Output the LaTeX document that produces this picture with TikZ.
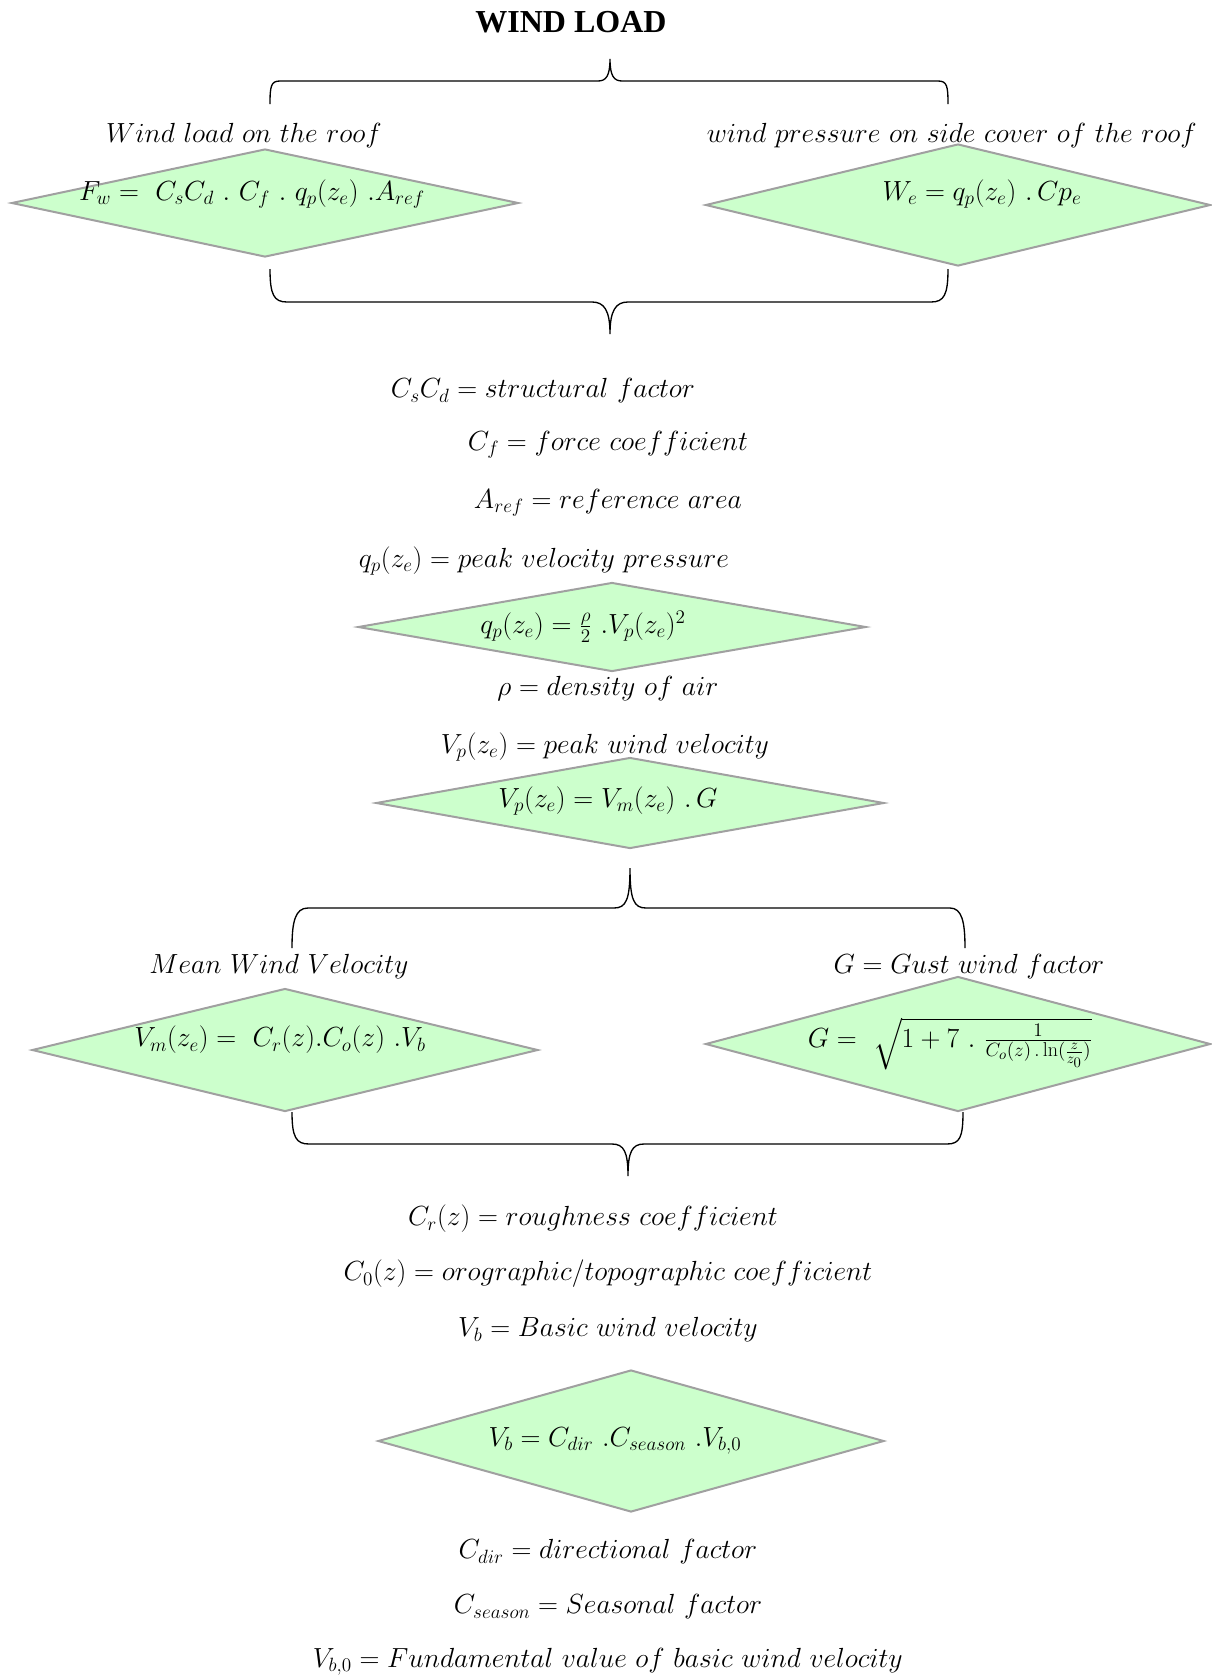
\documentclass[tikz,border=0pt]{standalone}
\usepackage{amsmath}
\usepackage{amssymb}
\usepackage{fontspec}
\usepackage{tikz}
\usetikzlibrary{shapes}
\newfontfamily\titlefont{Liberation Serif}
\definecolor{diafill}{RGB}{204,255,204}
\definecolor{diaedge}{RGB}{160,160,160}

\begin{document}
\begin{tikzpicture}[x=0.75pt,y=0.75pt,yscale=-1,xscale=1,
  dia/.style={diamond,draw=diaedge,fill=diafill,line width=1.5pt,inner sep=0pt},
  eqn/.style={inner sep=0.75pt,font=\fontsize{21.5}{26}\selectfont},
  brace/.style={line width=1pt}]
\useasboundingbox (0,0) rectangle (1211,1675);

%title
\node [inner sep=0.75pt,font=\titlefont\bfseries\fontsize{24}{28}\selectfont] (title) at (571,22) {WIND LOAD};

%top brace
\draw [brace] (270,104) .. controls (270,86) and (271,81) .. (280,81) -- (598,81) .. controls (606,81) and (610,76) .. (610,59) .. controls (610,76) and (614,81) .. (622,81) -- (938,81) .. controls (947,81) and (948,86) .. (948,104) ;

%roof and side cover
\node [eqn] (roofl) at (244,136) {$Wind\ load\ on\ the\ roof$};
\node [eqn] (sidel) at (952,136) {$wind\ pressure\ on\ side\ cover\ of\ the\ roof$};
\node [dia,minimum width=380.25pt,minimum height=81pt] (droof) at (265,203) {};
\node [dia,minimum width=378.75pt,minimum height=91.5pt] (dside) at (958,205) {};
\node [eqn] (froof) at (252,194) {$F_w =\ C_sC_d\ .\ C_f\ .\ q_p(z_e)\ .A_{ref}$};
\node [eqn] (fside) at (982,194) {$W_e = q_p(z_e)\ .\,Cp_e$};

\draw [brace] (270,269) .. controls (270,295) and (274,302) .. (287,302) -- (592,302) .. controls (604,302) and (610,310) .. (610,334) .. controls (610,310) and (616,302) .. (628,302) -- (931,302) .. controls (944,302) and (948,295) .. (948,269) ;

%factors
\node [eqn] (csd) at (543,391) {$C_sC_d = structural\ factor$};
\node [eqn] (cf) at (608,445) {$C_f = force\ coefficient$};
\node [eqn] (aref) at (608,503) {$A_{ref} = reference\ area$};
\node [eqn] (qp) at (544,561) {$q_p(z_e) = peak\ velocity\ pressure$};
\node [dia,minimum width=381pt,minimum height=66.75pt] (dqp) at (612,627) {};
\node [eqn] (fqp) at (583,627) {$q_p(z_e) = \frac{\rho}{2}\ .V_p(z_e)^2$};
\node [eqn] (rho) at (608,689) {$\rho = density\ of\ air$};
\node [eqn] (vp) at (605,747) {$V_p(z_e) = peak\ wind\ velocity$};
\node [dia,minimum width=381pt,minimum height=68.25pt] (dvp) at (630,803) {};
\node [eqn] (fvp) at (608,801) {$V_p(z_e) = V_m(z_e)\ .\,G$};

\draw [brace] (292,948) .. controls (292,922) and (295,908) .. (308,908) -- (614,908) .. controls (626,908) and (630,900) .. (630,868) .. controls (630,900) and (634,908) .. (646,908) -- (950,908) .. controls (962,908) and (965,922) .. (965,948) ;

%mean velocity and gust
\node [eqn] (vml) at (279,967) {$Mean\ Wind\ Velocity$};
\node [eqn] (gl) at (969,967) {$G = Gust\ wind\ factor$};
\node [dia,minimum width=379.5pt,minimum height=92.25pt] (dvm) at (285,1050) {};
\node [dia,minimum width=378.75pt,minimum height=101.25pt] (dg) at (958,1044) {};
\node [eqn] (fvm) at (280,1040) {$V_m(z_e) =\ C_r(z).C_o(z)\ .V_b$};
\node [eqn] (fg) at (950,1044) {$G =\ \sqrt{1+7\ .\ \frac{1}{C_o(z)\,.\ln(\frac{z}{z_0})}}$};

\draw [brace] (292,1112) .. controls (292,1137) and (296,1144) .. (309,1144) -- (612,1144) .. controls (624,1144) and (628,1152) .. (628,1176) .. controls (628,1152) and (632,1144) .. (644,1144) -- (947,1144) .. controls (960,1144) and (963,1137) .. (963,1112) ;

%basic velocity
\node [eqn] (cr) at (593,1219) {$C_r(z) = roughness\ coefficient$};
\node [eqn] (co) at (608,1274) {$C_0(z) = orographic/topographic\ coefficient$};
\node [eqn] (vb) at (608,1330) {$V_b = Basic\ wind\ velocity$};
\node [dia,minimum width=379.5pt,minimum height=106.5pt] (dvb) at (631,1441) {};
\node [eqn] (fvb) at (615,1441) {$V_b = C_{dir}\ .C_{season}\ .V_{b,0}$};
\node [eqn] (cdir) at (608,1552) {$C_{dir} = directional\ factor$};
\node [eqn] (cseason) at (608,1607) {$C_{season} = Seasonal\ factor$};
\node [eqn] (vb0) at (608,1662) {$V_{b,0} = Fundamental\ value\ of\ basic\ wind\ velocity$};
\end{tikzpicture}
\end{document}
